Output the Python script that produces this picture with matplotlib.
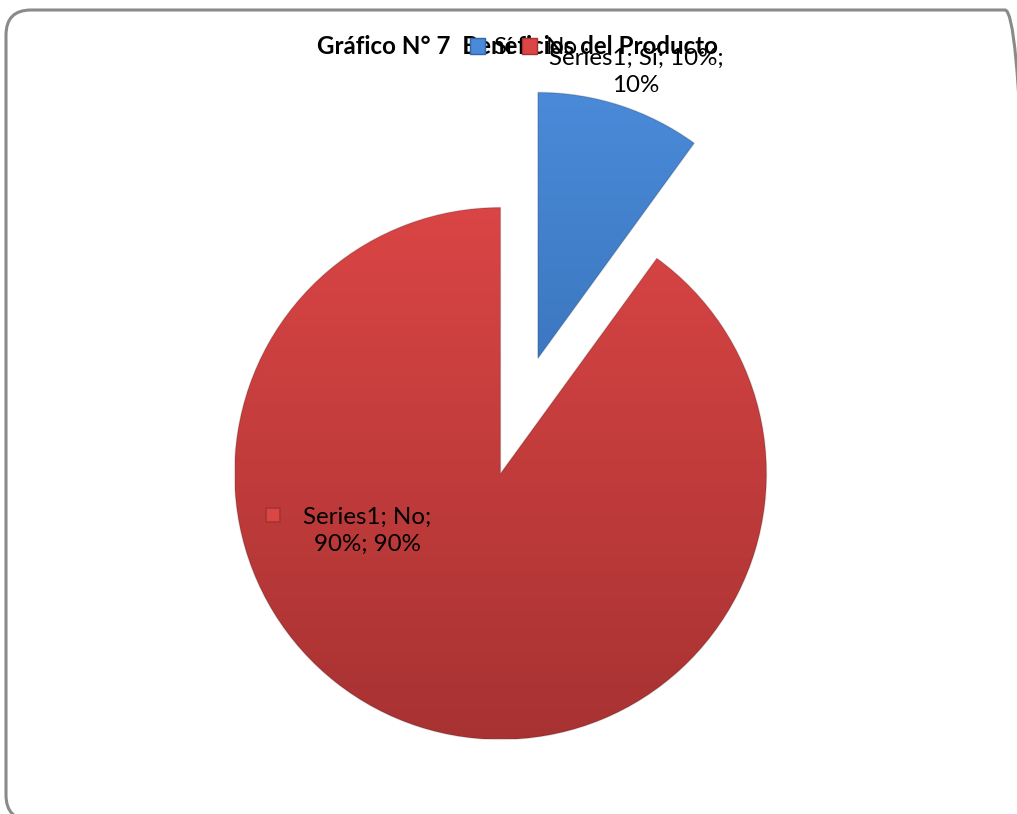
import numpy as np
import matplotlib
matplotlib.use("Agg")
import matplotlib.pyplot as plt
from matplotlib.patches import FancyBboxPatch, Patch
from matplotlib.colors import LinearSegmentedColormap

# ── Data ───────────────────────────────────────────────────────────────────────
TITLE      = "Gráfico N° 7  Beneficios del Producto"
SERIES     = "Series1"
CATEGORIES = ["Sí", "No"]
VALUES     = [10, 90]
EXPLODE    = [0.455, 0.0]          # fraction of the radius

TOP_COLORS = ["#4a8ad8", "#da4545"]
BOT_COLORS = ["#2f66aa", "#a83232"]

W, H = 1017, 814
FONT = ["Lato", "DejaVu Sans"]
FS = 17.4

fig = plt.figure(figsize=(W / 100, H / 100), dpi=100)
ax = fig.add_axes([0, 0, 1, 1])

center = (500.5, H - 473.5)
radius = 266

wedges, _ = ax.pie(VALUES, startangle=54, counterclock=True,
                   explode=[e * radius for e in EXPLODE],
                   center=center, radius=radius, frame=True,
                   wedgeprops=dict(facecolor="none", edgecolor="none"))

# rounded chart border
ax.add_patch(FancyBboxPatch((6, -6), 1024, H - 10 + 6,
                            boxstyle="round,pad=0,rounding_size=25",
                            fill=False, edgecolor="#8a8a8a", linewidth=2.2,
                            zorder=1))

# gradient fill clipped to each wedge
grad = np.linspace(0, 1, 256).reshape(-1, 1)
for w, c0, c1 in zip(wedges, TOP_COLORS, BOT_COLORS):
    cmap = LinearSegmentedColormap.from_list("g", [c1, c0])
    x0, y0 = w.center[0] - w.r, w.center[1] - w.r
    im = ax.imshow(grad, cmap=cmap, origin="lower", aspect="auto",
                   extent=(x0, x0 + 2 * w.r, y0, y0 + 2 * w.r), zorder=2)
    im.set_clip_path(w)
    w.set_edgecolor((0, 0, 0, 0.15))
    w.set_linewidth(1.0)
    w.set_zorder(3)

ax.set_xlim(0, W)
ax.set_ylim(0, H)
ax.set_aspect("equal")
ax.axis("off")

# title
ax.text(517, H - 47, TITLE, ha="center", va="center", fontsize=FS,
        fontweight="bold", family=FONT, zorder=4)

# legend
handles = [Patch(facecolor=c0, edgecolor=c1) for c0, c1 in zip(TOP_COLORS, BOT_COLORS)]
leg = ax.legend(handles, CATEGORIES, loc="center", bbox_to_anchor=(524 / W, 1 - 48 / H),
                ncol=2, frameon=False, handlelength=0.62, handleheight=0.62,
                handletextpad=0.35, columnspacing=0.4, borderpad=0,
                prop=dict(family=FONT, size=FS))
leg.set_zorder(5)

# data labels
total = sum(VALUES)
pct = [f"{v / total:.0%}" for v in VALUES]
ax.text(636, H - 72, f"{SERIES}; {CATEGORIES[0]}; {pct[0]};\n{pct[0]}",
        ha="center", va="center", fontsize=FS, family=FONT, linespacing=1.35,
        zorder=6)
ax.text(367, H - 531, f"{SERIES}; {CATEGORIES[1]};\n{pct[1]}; {pct[1]}",
        ha="center", va="center", fontsize=FS, family=FONT, linespacing=1.35,
        zorder=6)
ax.scatter([273], [H - 515], marker="s", s=115, c=TOP_COLORS[1],
           edgecolors=BOT_COLORS[1], linewidths=1.2, zorder=6)

fig.savefig("out.png", dpi=100)
